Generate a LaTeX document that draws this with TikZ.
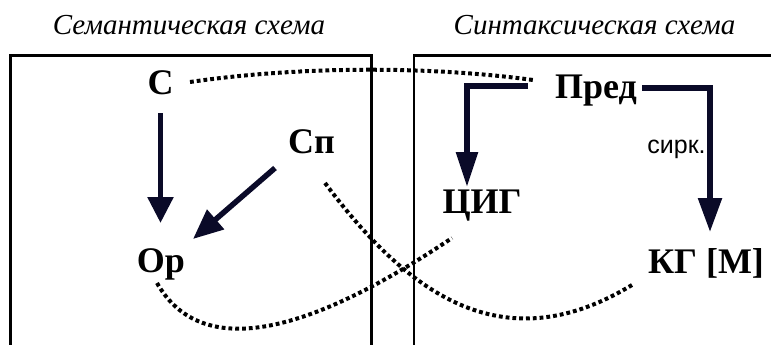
\documentclass[tikz,border=0pt]{standalone}
\usepackage{fontspec}
\setmainfont{Liberation Serif}
\newfontfamily\sansf{Liberation Sans}
\usetikzlibrary{arrows.meta}
\definecolor{navy}{RGB}{10,10,40}
\begin{document}
\begin{tikzpicture}[x=1pt,y=-1pt,
  term/.style={inner sep=0pt,anchor=base,font=\fontsize{36}{40}\selectfont\bfseries},
  caption/.style={inner sep=0pt,anchor=base,font=\fontsize{29}{33}\selectfont\itshape},
  frame/.style={line width=2.5pt,line join=miter},
  link/.style={line width=5.5pt,draw=navy},
  corr/.style={draw=black,line width=4pt,dash pattern=on 3.8pt off 3pt},
]
\useasboundingbox (0,0) rectangle (771,345);

% headings
\node[caption] (hsem) at (189,35) {Семантическая схема};
\node[caption] (hsyn) at (594.5,35) {Синтаксическая схема};

% frames, open at the bottom
\draw[frame] (10.5,347) -- (10.5,55.5) -- (371.5,55.5) -- (371.5,347);
\draw[frame] (414,347) -- (414,55.5) -- (773,55.5);

% semantic scheme
\node[term] (C) at (160.5,95) {С};
\node[term] (Sp) at (311.5,153) {Сп};
\node[term] (Op) at (161,272) {Ор};

% syntactic scheme
\node[term] (Pred) at (596,98) {Пред};
\node[term] (ZIG) at (482,213) {ЦИГ};
\node[term] (KG) at (706,273) {КГ [М]};
\node[inner sep=0pt,anchor=base,font=\sansf\fontsize{25}{28}\selectfont] (sirk) at (676.5,153) {сирк.};

% arrows
\draw[link,-{Triangle[length=26pt,width=25pt]}]
  ([yshift=-18pt]C.base) -- ([xshift=-0.5pt,yshift=49pt]Op.base);
\draw[link,-{Triangle[length=30pt,width=25pt]}]
  ([xshift=-36.5pt,yshift=-15pt]Sp.base) -- ([xshift=32pt,yshift=33pt]Op.base);
\draw[link,-{Triangle[length=35pt,width=21pt]}]
  ([xshift=-68pt,yshift=12pt]Pred.base) -| ([xshift=-15pt,yshift=26pt]ZIG.base);
\draw[link,-{Triangle[length=34pt,width=23pt]}]
  ([xshift=46pt,yshift=10pt]Pred.base) -| ([xshift=4pt,yshift=41pt]KG.base);

% correspondences
\draw[corr] ([xshift=29.5pt,yshift=13pt]C.base) .. controls (300,66) and (430,66) .. ([xshift=-63pt,yshift=18pt]Pred.base);
\draw[corr] ([xshift=-4pt,yshift=-11pt]Op.base) .. controls (195,350) and (285,350) .. ([xshift=-30pt,yshift=-25pt]ZIG.base);
\draw[corr] ([xshift=13.5pt,yshift=-30pt]Sp.base) .. controls (405,290) and (500,365) .. ([xshift=-74pt,yshift=-12pt]KG.base);
\end{tikzpicture}
\end{document}
